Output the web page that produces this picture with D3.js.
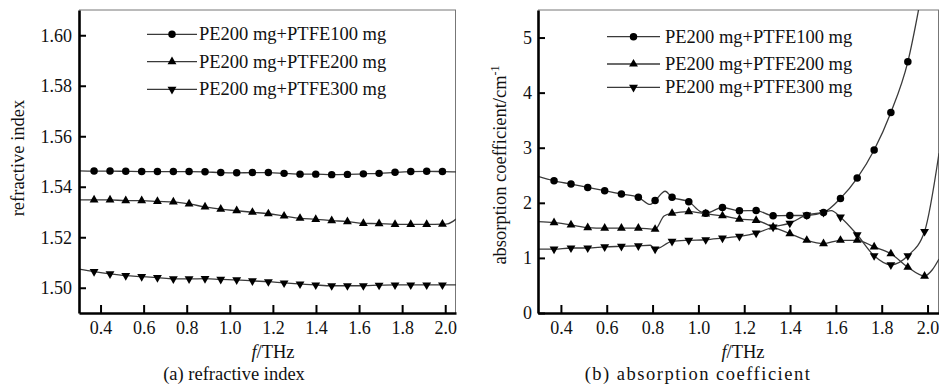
<!DOCTYPE html>
<html><head><meta charset="utf-8">
<script src="https://cdn.jsdelivr.net/npm/d3@7"></script>
<style>
body{margin:0;background:#fff}
svg{display:block}
svg text{font-family:"Liberation Serif","Times New Roman",serif !important;fill:#111}
</style>
</head><body>
<svg id="c" width="939" height="391"></svg>
<script>
// ---------- data ----------
const markerFreq = [0.370,0.444,0.517,0.591,0.664,0.738,0.811,0.885,0.958,1.032,1.105,1.179,1.252,1.326,1.399,1.473,1.546,1.620,1.693,1.767,1.840,1.914,1.987];
const freqTicks = [0.4,0.6,0.8,1.0,1.2,1.4,1.6,1.8,2.0];
const nTicks = [1.50,1.52,1.54,1.56,1.58,1.60];
const aTicks = [0,1,2,3,4,5];
const legendLabels = ["PE200 mg+PTFE100 mg","PE200 mg+PTFE200 mg","PE200 mg+PTFE300 mg"];

// refractive index (markers)
const n100 = [1.5462,1.5462,1.5461,1.5460,1.5460,1.5460,1.5460,1.5459,1.5456,1.5455,1.5456,1.5456,1.5453,1.5450,1.5450,1.5448,1.5449,1.5451,1.5453,1.5457,1.5460,1.5461,1.5460];
const n200 = [1.5348,1.5348,1.5345,1.5345,1.5342,1.5340,1.5332,1.5320,1.5311,1.5305,1.5299,1.5293,1.5284,1.5275,1.5271,1.5266,1.5262,1.5255,1.5254,1.5251,1.5251,1.5251,1.5252];
const n300 = [1.5064,1.5055,1.5048,1.5044,1.5040,1.5035,1.5035,1.5036,1.5033,1.5031,1.5027,1.5024,1.5019,1.5015,1.5011,1.5008,1.5008,1.5008,1.5010,1.5011,1.5011,1.5011,1.5011];
// extra line points (no marker) [freq, value]
const n100Extra = [[0.30,1.5463],[2.05,1.5459]];
const n200Extra = [[0.30,1.5348],[2.01,1.5253],[2.05,1.5272]];
const n300Extra = [[0.30,1.5074],[2.05,1.5011]];

// absorption coefficient (markers)
const a100 = [2.40,2.34,2.28,2.22,2.16,2.10,2.04,2.10,2.02,1.81,1.915,1.855,1.86,1.765,1.77,1.77,1.825,2.08,2.45,2.96,3.64,4.56,6.1];
const a200 = [1.64,1.60,1.55,1.54,1.54,1.54,1.52,1.81,1.84,1.80,1.765,1.705,1.68,1.56,1.44,1.32,1.26,1.32,1.32,1.20,1.075,0.83,0.67];
const a300 = [1.16,1.18,1.18,1.20,1.21,1.22,1.16,1.30,1.32,1.33,1.36,1.39,1.45,1.56,1.63,1.78,1.825,1.74,1.42,1.04,0.875,1.04,1.48];
const a100Extra = [[0.30,2.48],[0.79,1.97],[0.855,2.21],[1.009,1.84]];
const a200Extra = [[0.30,1.66],[0.85,1.76],[2.02,0.78],[2.05,0.98]];
const a300Extra = [[0.30,1.16],[0.79,1.23],[1.58,1.86],[2.05,2.90]];

// ---------- drawing ----------
const FONT = '"Liberation Serif","Times New Roman",serif';
const svg = d3.select("#c");
const symbols = [d3.symbolCircle, d3.symbolTriangle, d3.symbolTriangle];
const symSize = [44, 34, 34];
const symRot = [0, 0, 180];

function markerPath(i){ return d3.symbol().type(symbols[i]).size(symSize[i])(); }

function panel(cfg){
  const x = d3.scaleLinear().domain([0.3,2.05]).range([cfg.x0,cfg.x1]);
  const y = d3.scaleLinear().domain(cfg.yDomain).range([313,10]);
  const g = svg.append("g");
  const clipId = "clip"+cfg.id;
  svg.append("clipPath").attr("id",clipId).append("rect")
    .attr("x",cfg.x0).attr("y",10).attr("width",cfg.x1-cfg.x0).attr("height",303);

  // frame (top/right thin)
  g.append("line").attr("x1",cfg.x0).attr("x2",cfg.x1).attr("y1",10).attr("y2",10).attr("stroke","#777").attr("stroke-width",1);
  g.append("line").attr("x1",cfg.x1-0.5).attr("x2",cfg.x1-0.5).attr("y1",10).attr("y2",313).attr("stroke","#777").attr("stroke-width",1);

  // series
  const line = d3.line().x(d=>x(d[0])).y(d=>y(d[1])).curve(d3.curveMonotoneX);
  const sg = g.append("g").attr("clip-path",`url(#${clipId})`);
  cfg.series.forEach((s,i)=>{
    const pts = markerFreq.map((f,k)=>[f,s.vals[k]]).concat(s.extra).sort((a,b)=>a[0]-b[0]);
    sg.append("path").attr("d",line(pts)).attr("fill","none").attr("stroke","#3a3a3a").attr("stroke-width",1.3);
    sg.selectAll(null).data(markerFreq.map((f,k)=>[f,s.vals[k]])).enter().append("path")
      .attr("d",markerPath(i))
      .attr("transform",d=>`translate(${x(d[0])},${y(d[1])}) rotate(${symRot[i]})`)
      .attr("fill","#000");
  });

  // axes
  const ax = g.append("g").attr("transform","translate(0,313)")
    .call(d3.axisBottom(x).tickValues(freqTicks).tickFormat(d3.format(".1f")).tickSizeInner(-8).tickSizeOuter(0).tickPadding(8));
  const ay = g.append("g").attr("transform",`translate(${cfg.x0},0)`)
    .call(d3.axisLeft(y).tickValues(cfg.yTicks).tickFormat(cfg.yFmt).tickSizeInner(-7).tickSizeOuter(0).tickPadding(cfg.yPad));
  [ax,ay].forEach(a=>{
    a.attr("font-family",FONT).attr("font-size",18);
    a.select(".domain").attr("stroke","#000").attr("stroke-width",2.6);
    a.selectAll(".tick line").attr("stroke","#000").attr("stroke-width",2);
    a.selectAll(".tick text").style("font-size","18px").style("font-family",FONT).attr("fill","#111");
  });

  // legend
  cfg.legendY.forEach((ly,i)=>{
    g.append("line").attr("x1",cfg.lg[0]).attr("x2",cfg.lg[1]).attr("y1",ly).attr("y2",ly).attr("stroke","#3a3a3a").attr("stroke-width",1.3);
    g.append("path").attr("d",markerPath(i)).attr("transform",`translate(${(cfg.lg[0]+cfg.lg[1])/2},${ly}) rotate(${symRot[i]})`).attr("fill","#000");
    g.append("text").attr("x",cfg.lg[2]).attr("y",ly+6).style("font-size","18.5px").style("font-family",FONT).text(legendLabels[i]);
  });

  // x title
  const xt = g.append("text").attr("x",cfg.xTitleX).attr("y",358).attr("text-anchor","middle").style("font-size","18.5px").style("font-family",FONT);
  xt.append("tspan").attr("font-style","italic").text("f");
  xt.append("tspan").text("/THz");
  // caption
  g.append("text").attr("x",cfg.capX).attr("y",380).attr("text-anchor","middle").style("font-size","18.5px").style("font-family",FONT)
    .attr("letter-spacing",cfg.capLS).text(cfg.caption);
  // y title
  const yt = g.append("text").attr("transform",`translate(${cfg.yTitle[0]},${cfg.yTitle[1]}) rotate(-90)`)
    .attr("text-anchor","middle").style("font-size","18.5px").style("font-family",FONT);
  yt.append("tspan").text(cfg.yTitleText);
  if(cfg.yTitleSup){ yt.append("tspan").style("font-size","12px").attr("dy",-7).text(cfg.yTitleSup); }
}

panel({id:"a", x0:79, x1:456, yDomain:[1.49,1.61], yTicks:nTicks, yFmt:d3.format(".2f"), yPad:7,
  series:[{vals:n100,extra:n100Extra},{vals:n200,extra:n200Extra},{vals:n300,extra:n300Extra}],
  legendY:[34.3,61.7,89.3], lg:[147,197,199],
  xTitleX:273, capX:234, capLS:0, caption:"(a) refractive index",
  yTitle:[24,158], yTitleText:"refractive index"});

panel({id:"b", x0:538, x1:939, yDomain:[0,5.5], yTicks:aTicks, yFmt:d3.format("d"), yPad:6,
  series:[{vals:a100,extra:a100Extra},{vals:a200,extra:a200Extra},{vals:a300,extra:a300Extra}],
  legendY:[36.7,64,87.3], lg:[607,660,665],
  xTitleX:743, capX:698, capLS:1.5, caption:"(b) absorption coefficient",
  yTitle:[506,165], yTitleText:"absorption coefficient/cm", yTitleSup:"-1"});
</script>
</body></html>
